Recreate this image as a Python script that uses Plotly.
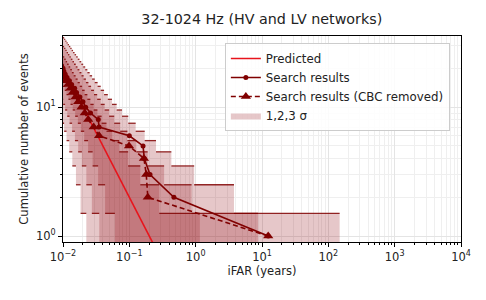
import plotly.graph_objects as go

# ---------------- data ----------------
# Predicted background (cumulative number vs iFAR)
predicted_ifar = [0.01, 0.2, 1.0]
predicted_n = [20.0, 1.0, 0.2]

# Search results: iFAR (years) of events, ranked; cumulative count = rank
search_ifar = [12.4, 0.47, 0.205, 0.168, 0.161, 0.100, 0.035, 0.034, 0.026, 0.022,
               0.020, 0.018, 0.016, 0.015, 0.0135, 0.0125, 0.0115, 0.0108, 0.0103, 0.0100, 0.0095]
search_n = list(range(1, len(search_ifar) + 1))

cbc_removed_ifar = [12.4, 0.19, 0.18, 0.166, 0.099, 0.035, 0.029, 0.024, 0.0213, 0.019,
                    0.017, 0.0155, 0.014, 0.013, 0.012, 0.011, 0.0104, 0.0100, 0.0096]
cbc_removed_n = list(range(1, len(cbc_removed_ifar) + 1))

# Background bands: for count level n = 1, 2, ... the iFAR extent [left, right]
sigma1_right = [1.157, 0.2825, 0.1463, 0.09588, 0.07028, 0.05517, 0.04521, 0.03819, 0.03300, 0.02900,
                0.02584, 0.02329, 0.02117, 0.01940, 0.01790, 0.01660, 0.01548, 0.01449, 0.01362, 0.01285,
                0.01215, 0.01153, 0.01096, 0.01045, 0.00998, 0.00955]
sigma1_left = [0.0606, 0.04312, 0.03385, 0.02796, 0.02388, 0.02088, 0.01858, 0.01675, 0.01526, 0.01402,
               0.01298, 0.01208, 0.01130, 0.01062, 0.01002, 0.00949]
sigma2_right = [8.692, 0.8677, 0.3344, 0.1890, 0.1274, 0.09340, 0.07280, 0.05916, 0.04955, 0.04246,
                0.03703, 0.03276, 0.02932, 0.02650, 0.02414, 0.02215, 0.02044, 0.01897, 0.01768, 0.01655,
                0.01555, 0.01466, 0.01386, 0.01313, 0.01248, 0.01189, 0.01134, 0.01085, 0.01039, 0.00997,
                0.0096]
sigma2_left = [0.03519, 0.02722, 0.02247, 0.01926, 0.01692, 0.01513, 0.01371, 0.01255, 0.01158, 0.01076,
               0.01006, 0.00945]
sigma3_right = [148.0, 3.781, 0.9501, 0.4301, 0.2525, 0.1705, 0.1246, 0.0963, 0.07762, 0.06442,
                0.05475, 0.04737, 0.04161, 0.03699, 0.03322, 0.03009, 0.02746, 0.02522, 0.02329, 0.02162,
                0.02015, 0.01886, 0.01771, 0.01668, 0.01576, 0.01493, 0.01418, 0.01349, 0.01287, 0.01229,
                0.01176, 0.01128, 0.01082, 0.01041, 0.01002, 0.0096]
sigma3_left = [0.02247, 0.0184, 0.01567, 0.01382, 0.01242, 0.01131, 0.01040, 0.00964]

x_tick_vals = [0.01, 0.1, 1, 10, 100, 1000, 10000]
x_tick_text = ['10<sup>−2</sup>', '10<sup>−1</sup>', '10<sup>0</sup>', '10<sup>1</sup>',
               '10<sup>2</sup>', '10<sup>3</sup>', '10<sup>4</sup>']
y_tick_vals = [1, 10]
y_tick_text = ['10<sup>0</sup>', '10<sup>1</sup>']

# ---------------- styles ----------------
DARK = '#800000'
BAND_FILL = 'rgba(139,0,10,0.22)'
EDGE = 'rgba(128,0,0,0.85)'
FONT = 'DejaVu Sans'
TXT = '#222'

fig = go.Figure()

bands = [(sigma3_right, sigma3_left), (sigma2_right, sigma2_left), (sigma1_right, sigma1_left)]
OFF = 0.001  # beyond left edge of axes
for bi, (right, left) in enumerate(bands):
    N = len(right)
    left_full = left + [OFF] * (N - len(left))
    xs, ys = [], []
    for i in range(N):
        n = i + 1
        xs += [left_full[i], left_full[i]]
        ys += [n - 0.5, n + 0.5]
    for i in reversed(range(N)):
        n = i + 1
        xs += [right[i], right[i]]
        ys += [n + 0.5, n - 0.5]
    xs.append(xs[0]); ys.append(ys[0])
    fig.add_trace(go.Scatter(x=xs, y=ys, mode='lines', fill='toself', fillcolor=BAND_FILL,
                             line=dict(width=0), name='1,2,3 σ', showlegend=(bi == 0),
                             legendrank=4, hoverinfo='skip'))
    # horizontal edges
    ex, ey = [], []
    for i in range(N):
        n = i + 1
        x0 = right[i + 1] if i + 1 < N else OFF
        ex += [x0, right[i], None]
        ey += [n + 0.5, n + 0.5, None]
    for i in range(1, N):
        n = i + 1
        ex += [left_full[i], left_full[i - 1], None]
        ey += [n - 0.5, n - 0.5, None]
    fig.add_trace(go.Scatter(x=ex, y=ey, mode='lines', line=dict(color=EDGE, width=1.3),
                             showlegend=False, hoverinfo='skip'))

fig.add_trace(go.Scatter(x=predicted_ifar, y=predicted_n, mode='lines', name='Predicted',
                         line=dict(color='#e8141c', width=1.6), legendrank=1))
fig.add_trace(go.Scatter(x=search_ifar, y=search_n, mode='lines+markers', name='Search results',
                         line=dict(color=DARK, width=1.6), marker=dict(symbol='circle', size=5, color=DARK),
                         legendrank=2))
fig.add_trace(go.Scatter(x=cbc_removed_ifar, y=cbc_removed_n, mode='lines+markers',
                         name='Search results (CBC removed)',
                         line=dict(color=DARK, width=1.6, dash='5px,3px'),
                         marker=dict(symbol='triangle-up', size=9, color=DARK), legendrank=3))

x_minor = [m * 10.0 ** e for e in range(-2, 4) for m in range(2, 10)]
y_minor = [2, 3, 4, 5, 6, 7, 8, 9, 20, 30]

axis_common = dict(showline=True, linecolor='black', linewidth=1, mirror=True,
                   ticks='outside', ticklen=4, tickcolor='black', showgrid=True,
                   gridcolor='#e4e4e4', gridwidth=1, zeroline=False, automargin=False,
                   tickfont=dict(family=FONT, size=11.5, color=TXT))

fig.update_xaxes(type='log', range=[-2, 4], tickvals=x_tick_vals, ticktext=x_tick_text,
                 title=dict(text='iFAR (years)', font=dict(family=FONT, size=11.5, color=TXT), standoff=4),
                 minor=dict(tickvals=x_minor, ticks='outside', ticklen=2, tickcolor='black',
                            showgrid=True, gridcolor='#efefef'),
                 **axis_common)
fig.update_yaxes(type='log', range=[-0.0458, 1.5515], tickvals=y_tick_vals, ticktext=y_tick_text,
                 title=dict(text='Cumulative number of events', font=dict(family=FONT, size=11.5, color=TXT),
                            standoff=4),
                 minor=dict(tickvals=y_minor, ticks='outside', ticklen=2, tickcolor='black',
                            showgrid=True, gridcolor='#efefef'),
                 **axis_common)

# the page adds an 8px body margin; the figure is sized to compensate
fig.update_layout(
    width=478, height=292,
    margin=dict(l=55, r=25, t=28, b=58),
    paper_bgcolor='white', plot_bgcolor='white',
    title=dict(text='32-1024 Hz (HV and LV networks)', x=0.531, xanchor='center', y=0.962, yanchor='middle',
               font=dict(family=FONT, size=14.3, color=TXT)),
    legend=dict(x=0.972, y=0.966, xanchor='right', yanchor='top', bgcolor='rgba(255,255,255,0.85)',
                bordercolor='#cccccc', borderwidth=1, font=dict(family=FONT, size=11.8, color=TXT),
                tracegroupgap=0),
    showlegend=True,
)

fig.write_html('out.html')
